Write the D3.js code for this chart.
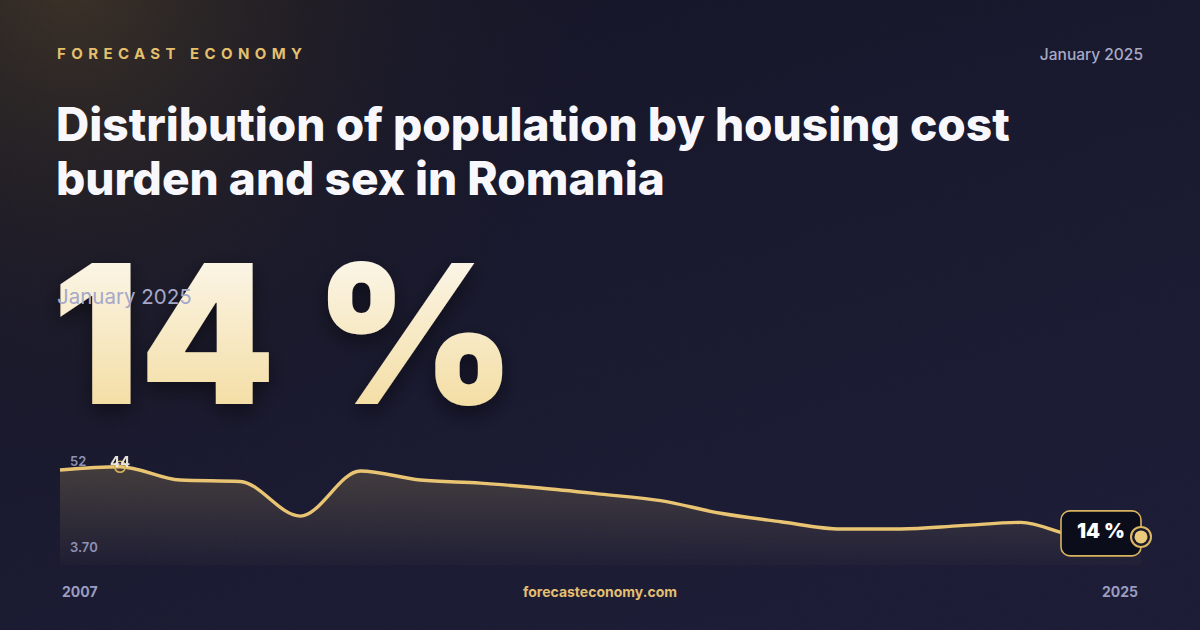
<!DOCTYPE html>
<html><head><meta charset="utf-8">
<script src="https://cdn.jsdelivr.net/npm/d3@7/dist/d3.min.js"></script>
<style>
html,body{margin:0;padding:0;background:#161628;}
svg{display:block;}
text{font-family:Inter,"Noto Sans",sans-serif;}
</style></head>
<body>
<svg id="c" width="1200" height="630"></svg>
<script>
// ---- data ----
const brand = "FORECAST ECONOMY";
const dateLabel = "January 2025";
const titleLines = ["Distribution of population by housing cost", "burden and sex in Romania"];
const headline = "14 %";
const years = [2007,2008,2009,2010,2011,2012,2013,2014,2015,2016,2017,2018,2019,2020,2021,2022,2023,2024,2025];
const values = [42.6,44.0,38.3,37.7,22.9,42.2,38.3,37.0,34.9,32.3,29.5,24.1,20.5,17.4,17.4,18.8,20.2,14.2,14.0];
const yTickLabels = ["52","3.70"];
const yDomain = [3.7, 52];
const highlightIndex = 1;
const highlightLabel = "44";
const lastLabel = "14 %";
const xEndLabels = ["2007","2025"];
const site = "forecasteconomy.com";

const svg = d3.select("#c");
const defs = svg.append("defs");

// background
const bg = defs.append("linearGradient").attr("id","bg").attr("x1",0).attr("y1",0).attr("x2",0.6).attr("y2",1);
bg.append("stop").attr("offset","0%").attr("stop-color","#141426");
bg.append("stop").attr("offset","100%").attr("stop-color","#1b1b35");
const glow = defs.append("radialGradient").attr("id","glow").attr("gradientUnits","userSpaceOnUse")
  .attr("cx",70).attr("cy",-20).attr("r",560);
glow.append("stop").attr("offset","0%").attr("stop-color","#3f3426").attr("stop-opacity",0.9);
glow.append("stop").attr("offset","45%").attr("stop-color","#2c251f").attr("stop-opacity",0.4);
glow.append("stop").attr("offset","100%").attr("stop-color","#141426").attr("stop-opacity",0);
svg.append("rect").attr("width",1200).attr("height",630).attr("fill","url(#bg)");
svg.append("rect").attr("width",1200).attr("height",630).attr("fill","url(#glow)");

// noise
const nf = defs.append("filter").attr("id","noise").attr("x",0).attr("y",0).attr("width","100%").attr("height","100%");
nf.append("feTurbulence").attr("type","fractalNoise").attr("baseFrequency",0.9).attr("numOctaves",2).attr("stitchTiles","stitch");
nf.append("feColorMatrix").attr("type","saturate").attr("values",0);
svg.append("rect").attr("width",1200).attr("height",630).attr("filter","url(#noise)").attr("opacity",0.025);

// header
svg.append("text").attr("x",57).attr("y",59).text(brand)
  .attr("font-size",15).attr("font-weight",700).attr("fill","#e3bf6e")
  .attr("textLength",245).attr("lengthAdjust","spacing");
svg.append("text").attr("x",1143).attr("y",60).attr("text-anchor","end").text(dateLabel)
  .attr("font-size",15.5).attr("font-weight",500).attr("fill","#a8aac6");

// title
svg.append("g").selectAll("text").data(titleLines).join("text")
  .attr("x",56).attr("y",(d,i)=>141+i*54).text(d=>d)
  .attr("font-size",46).attr("font-weight",800).attr("fill","#f8f8fc");

// big number
const bn = defs.append("linearGradient").attr("id","bn").attr("x1",0).attr("y1",0).attr("x2",0).attr("y2",1);
bn.append("stop").attr("offset","0%").attr("stop-color","#fdfcfa");
bn.append("stop").attr("offset","100%").attr("stop-color","#f2d791");
const sh = defs.append("filter").attr("id","sh").attr("x","-10%").attr("y","-10%").attr("width","130%").attr("height","140%");
sh.append("feDropShadow").attr("dx",0).attr("dy",8).attr("stdDeviation",10).attr("flood-color","#000").attr("flood-opacity",0.45);
const big = svg.append("text").attr("x",52).attr("y",404)
  .attr("font-size",194).attr("font-weight",900).attr("fill","url(#bn)")
  .attr("filter","url(#sh)");
big.append("tspan").text(headline).attr("textLength",464).attr("lengthAdjust","spacingAndGlyphs");
svg.append("text").attr("x",57).attr("y",304).text(dateLabel)
  .attr("font-size",20.5).attr("font-weight",400).attr("fill","#a6a8c9");

// chart
const x = d3.scaleLinear().domain([years[0], years[years.length-1]]).range([60,1141]);
const y = d3.scaleLinear().domain(yDomain).range([561,448]);
const bottom = 565;

const ag = defs.append("linearGradient").attr("id","ag").attr("gradientUnits","userSpaceOnUse")
  .attr("x1",0).attr("y1",448).attr("x2",0).attr("y2",bottom);
ag.append("stop").attr("offset","0%").attr("stop-color","#e9c573").attr("stop-opacity",0.24);
ag.append("stop").attr("offset","100%").attr("stop-color","#e9c573").attr("stop-opacity",0.02);

const pts = years.map((yr,i)=>({yr, v:values[i]}));
const area = d3.area().x(d=>x(d.yr)).y0(bottom).y1(d=>y(d.v)).curve(d3.curveMonotoneX);
const line = d3.line().x(d=>x(d.yr)).y(d=>y(d.v)).curve(d3.curveMonotoneX);
svg.append("path").datum(pts).attr("d",area).attr("fill","url(#ag)");
svg.append("path").datum(pts).attr("d",line).attr("fill","none")
  .attr("stroke","#e9c573").attr("stroke-width",3.4).attr("stroke-linejoin","round");

// y labels
svg.append("text").attr("x",70).attr("y",466).text(yTickLabels[0])
  .attr("font-size",13).attr("font-weight",600).attr("fill","#8f91b6");
svg.append("text").attr("x",70).attr("y",552).text(yTickLabels[1])
  .attr("font-size",13).attr("font-weight",600).attr("fill","#8f91b6");

// highlight marker
const hp = pts[highlightIndex];
svg.append("circle").attr("cx",x(hp.yr)).attr("cy",y(hp.v)).attr("r",5.5)
  .attr("fill","none").attr("stroke","#d6b05a").attr("stroke-width",1.6);
svg.append("text").attr("x",x(hp.yr)).attr("y",y(hp.v)).attr("text-anchor","middle").text(highlightLabel)
  .attr("font-size",15).attr("font-weight",700).attr("fill","#f4f1e8").attr("opacity",0.92);

// last value box + marker
const lp = pts[pts.length-1];
const lx = x(lp.yr), ly = y(lp.v);
svg.append("rect").attr("x",lx-80).attr("y",ly-26).attr("width",80).attr("height",45).attr("rx",9)
  .attr("fill","#0c0d1a").attr("stroke","#d9b45f").attr("stroke-width",1.6);
svg.append("text").attr("x",lx-40).attr("y",ly+1).attr("text-anchor","middle").text(lastLabel)
  .attr("font-size",20).attr("font-weight",900).attr("fill","#ffffff");
svg.append("circle").attr("cx",lx).attr("cy",ly).attr("r",10)
  .attr("fill","#1a1a2c").attr("stroke","#dcb761").attr("stroke-width",2);
svg.append("circle").attr("cx",lx).attr("cy",ly).attr("r",6.5).attr("fill","#ebca7c");

// footer
svg.append("text").attr("x",62).attr("y",597).text(xEndLabels[0])
  .attr("font-size",14).attr("font-weight",700).attr("fill","#9a9cc0");
svg.append("text").attr("x",1138).attr("y",597).attr("text-anchor","end").text(xEndLabels[1])
  .attr("font-size",14).attr("font-weight",700).attr("fill","#9a9cc0");
svg.append("text").attr("x",600).attr("y",597).attr("text-anchor","middle").text(site)
  .attr("font-size",14).attr("font-weight",700).attr("fill","#e2bf72");
</script>
</body></html>
